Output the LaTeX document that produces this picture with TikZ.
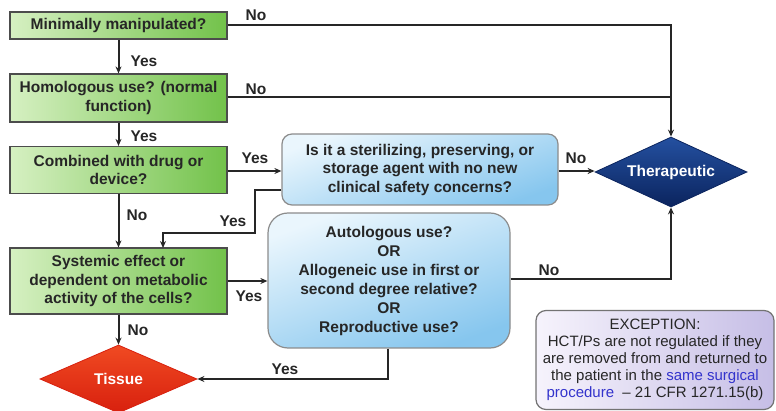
\documentclass[tikz,border=0pt]{standalone}
\usepackage{fontspec}
\setmainfont{Liberation Sans}
\usetikzlibrary{shapes.geometric,arrows.meta,calc}
\definecolor{grL}{HTML}{D6F0C2}
\definecolor{grR}{HTML}{72C24A}
\definecolor{blL}{HTML}{EAF6FD}
\definecolor{blR}{HTML}{86C6EE}
\definecolor{navyA}{HTML}{2450A0}
\definecolor{navyB}{HTML}{0B245E}
\definecolor{redA}{HTML}{F04A22}
\definecolor{redB}{HTML}{D8200E}
\definecolor{lavL}{HTML}{F6F3FC}
\definecolor{lavR}{HTML}{C6BEE6}
\definecolor{txt}{HTML}{262626}
\definecolor{linkblue}{HTML}{3333CC}
\begin{document}
\begin{tikzpicture}[x=1pt,y=-1pt,
  bfont/.style={font=\bfseries\fontsize{15.5}{18.5}\selectfont},
  gbox/.style={bfont, draw=black!70, line width=1.2pt, left color=grL, right color=grR,
    minimum width=217pt, align=center, inner sep=0pt, text=txt},
  bbox/.style={bfont, draw=black!45, line width=1.2pt, top color=blL, bottom color=blR,
    shading angle=20, align=center, inner sep=0pt, text=txt},
  lbl/.style={bfont, text=txt, inner sep=0pt},
  conn/.style={line width=2pt, draw=black!85},
  arr/.style={conn, -{Stealth[length=7pt,width=6pt]}},
]
\useasboundingbox (0,0) rectangle (776,411);

% green question boxes
\node[gbox, minimum height=27pt] (min) at (118.5,25.5) {Minimally manipulated?};
\node[gbox, minimum height=48pt] (hom) at (118.5,98) {Homologous use? (normal\\function)};
\node[gbox, minimum height=47pt] (comb) at (118.5,170) {Combined with drug or\\device?};
\node[gbox, minimum height=66pt] (sys) at (118.5,281) {Systemic effect or\\dependent on metabolic\\activity of the cells?};

% blue boxes
\node[bbox, minimum width=276pt, minimum height=71pt, rounded corners=10pt] (ster) at (420,169.5)
  {Is it a sterilizing, preserving, or\\storage agent with no new\\clinical safety concerns?};
\node[bbox, minimum width=242pt, minimum height=135pt, rounded corners=20pt,
  font=\bfseries\fontsize{15.5}{19}\selectfont] (auto) at (389,280.5)
  {Autologous use?\\OR\\Allogeneic use in first or\\second degree relative?\\OR\\Reproductive use?};

% outcome diamonds
\node[diamond, draw=navyB, line width=0.8pt, top color=navyA, bottom color=navyB,
  minimum width=152pt, minimum height=70pt, inner sep=0pt, aspect=2.2,
  text=white, bfont] (ther) at (671,172) {Therapeutic};
\node[diamond, draw=redB, line width=0.8pt, top color=redA, bottom color=redB,
  minimum width=157pt, minimum height=68pt, inner sep=0pt, aspect=2.3,
  text=white, bfont] (tis) at (118.5,379) {Tissue};

% exception box
\node[draw=black!55, line width=1.2pt, rounded corners=10pt, left color=lavL, right color=lavR,
  minimum width=238pt, minimum height=99pt, align=center, inner sep=0pt, text=txt,
  font=\fontsize{15}{17}\selectfont] (exc) at (655,360)
  {EXCEPTION:\\HCT/Ps are not regulated if they\\are removed from and returned to\\the patient in the \textcolor{linkblue}{same surgical}\\\textcolor{linkblue}{procedure}\ \ -- 21 CFR 1271.15(b)};

% connectors
\draw[arr] (min.east) -- (671,25.5) -- (ther.north);
\draw[conn] (hom.east |- 0,97) -- (671,97);
\draw[arr] (min.south) -- (hom.north);
\draw[arr] (hom.south) -- (comb.north);
\draw[arr] (comb.east |- 0,171) -- (ster.west |- 0,171);
\draw[arr] (ster.east |- 0,171) -- (ther.west |- 0,171);
\draw[arr] (ster.west |- 0,190) -- (255,190) -- (255,233) -- (163,233) -- (163,248);
\draw[arr] (comb.south) -- (sys.north);
\draw[arr] (sys.east |- 0,281) -- (auto.west |- 0,281);
\draw[arr] (auto.east |- 0,279) -- (671,279) -- (ther.south);
\draw[arr] (sys.south) -- (tis.north);
\draw[arr] (auto.south -| 388,0) -- (388,379) -- (tis.east);

% labels
\node[lbl] (l1) at (256,15) {No};
\node[lbl] (l2) at (256,89) {No};
\node[lbl] (l3) at (144,61) {Yes};
\node[lbl] (l4) at (144,136) {Yes};
\node[lbl] (l5) at (255,158) {Yes};
\node[lbl] (l6) at (576,158) {No};
\node[lbl] (l7) at (137,215) {No};
\node[lbl] (l8) at (233,221) {Yes};
\node[lbl] (l9) at (249,296) {Yes};
\node[lbl] (l10) at (138,330) {No};
\node[lbl] (l11) at (285,369) {Yes};
\node[lbl] (l12) at (549,270) {No};
\end{tikzpicture}
\end{document}
